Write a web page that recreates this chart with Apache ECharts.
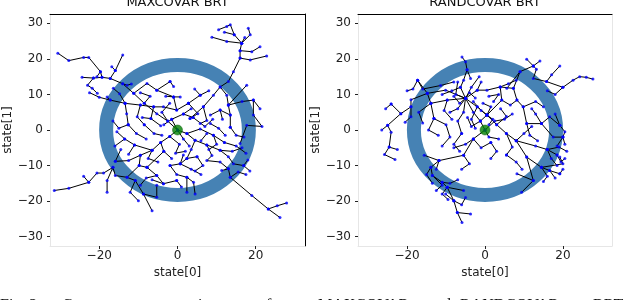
<!DOCTYPE html>
<html><head><meta charset="utf-8">
<script src="https://cdn.jsdelivr.net/npm/echarts@6/dist/echarts.min.js"></script>
<style>html,body{margin:0;padding:0;background:#fff}#c{width:640px;height:300px}</style>
</head><body><div id="c"></div><script>
const panelTitles = ['MAXCOVAR BRT', 'RANDCOVAR BRT'];
const xTicks = [-20, 0, 20];
const yTicks = [-30, -20, -10, 0, 10, 20, 30];
const axisRange = [-32.6, 32.6];
const goalCircle = [0, 0, 18.25];
const startPoint = [0, 0];
const captionWords = ['Fig. 2:', 'Coverage', 'comparison', 'of', 'MAXCOVAR', 'and', 'RANDCOVAR', 'BRT'];

const maxcovarBranches = [
 [[0,0],[-2.5,2.5],[-5.3,4.6],[-8.5,7.5],[-11.2,10.3],[-14,13],[-17.2,14.5],[-19.3,14.8],[-19.7,16.4],[-22.7,20.4],[-24,20.4],[-27.8,19.5],[-30.6,21.6]],
 [[-17.2,14.5],[-15.9,16.7],[-14,21.1]],
 [[-15.9,16.7],[-16.8,17.8]],
 [[-19.3,14.8],[-21.5,14.6],[-24.4,14.8]],
 [[-21.5,14.6],[-23,12.6],[-21.8,11.7],[-20.5,10.3]],
 [[-19.7,16.4],[-20.6,15]],
 [[-14,13],[-12.9,12.6],[-11.8,12.9]],
 [[-11.2,10.3],[-7.8,13.1],[-5.3,11.2],[-1.9,13.6]],
 [[-5.3,11.2],[-1.0,9.3],[0.7,9.3]],
 [[-1.9,13.6],[-1.0,12.2]],
 [[-1.0,9.3],[-0.2,5.6],[2.8,7.5]],
 [[-0.2,5.6],[-3.6,6.5],[-6.1,6.5],[-9.5,7],[-13.4,7.5],[-17.2,8.4],[-18,9.3]],
 [[-17.2,8.4],[-20,9.2],[-22.5,10.5]],
 [[-13.4,7.5],[-14.8,10.2],[-16.4,11.7]],
 [[-13.4,7.5],[-13,4.6],[-12.6,1.5]],
 [[-9.5,7],[-10.3,3.7],[-8.5,1.5]],
 [[-6.1,6.5],[-6.8,3.2],[-4.3,1.2]],
 [[2.8,7.5],[5.8,9.8],[4.4,11.5]],
 [[2.8,7.5],[5.2,4.6],[3.2,3.2]],
 [[3.2,3.2],[6.6,6.5],[9.2,9.8],[10.9,12.1],[13,13.6],[14.3,16.4],[16,20.2],[16,22.3],[16.4,24.4],[12.6,24.9],[8.8,26.1]],
 [[16.4,24.4],[18.6,26.8],[18.1,28.6]],
 [[16.4,24.4],[14.5,26.8],[13.5,29.6],[12.6,29.1],[10.5,28.2]],
 [[14.5,26.8],[12,27.5]],
 [[16,20.2],[18.6,19.7],[22.8,20.8]],
 [[16,22.3],[19,22],[21.1,23.4]],
 [[16.4,24.4],[17.2,26]],
 [[10.9,12.1],[12.6,9.8],[13,7],[13.5,4.2],[13.5,0.8]],
 [[13,7],[17.7,12.6]],
 [[13,7],[16.5,8],[19.4,8.4],[21.1,6]],
 [[19.4,8.4],[19.4,4.2],[21.6,1],[17.7,1.3],[16,-3.8]],
 [[13.5,4.2],[10.9,5.6],[8.4,4.2]],
 [[6.6,6.5],[7.5,2.7],[5.8,1.8]],
 [[8.4,1.8],[10.5,0.5],[12.2,-1.5]],
 [[13.5,0.8],[15,-1.5],[17,-2]],
 [[0,0],[2.4,-1],[4.5,-2.9],[7.5,-4.2],[10.9,-5.7],[13,-7.5],[14.3,-9.5],[16.9,-10],[18,-8.4]],
 [[4.5,-2.9],[3.5,-5.5],[2.4,-8],[0.7,-9.5],[-1.9,-10]],
 [[7.5,-4.2],[8.8,-7.2],[7.5,-8.6],[10.9,-9],[13,-10.9],[11.3,-11.4]],
 [[13,-10.9],[13.5,-13.3],[19,-18.4],[23.2,-22.2],[26.2,-24.6]],
 [[23.2,-22.2],[25.5,-21.3],[27.9,-20.5]],
 [[13.5,-13.3],[15.5,-11.8],[17.5,-12.5]],
 [[0,0],[-2,-1.8],[-4.3,-3.5],[-6.5,-5.7],[-9.5,-7.1],[-12.5,-8.6],[-15.9,-8.8]],
 [[-9.5,-7.1],[-9.8,-10],[-12.9,-13.3],[-15.9,-12.8],[-16.5,-10.5],[-18.9,-12.1],[-20.6,-12.1],[-22.7,-14.7],[-27.8,-16.4],[-31.5,-17]],
 [[-16.5,-10.5],[-18,-14.2],[-18,-17.5]],
 [[-12.9,-13.3],[-10.8,-14.2],[-12.1,-17.5],[-10,-19.9]],
 [[-10.8,-14.2],[-8.7,-18],[-6.5,-22.7]],
 [[-8.7,-18],[-5.3,-18.9],[-5.3,-15.5]],
 [[-7.8,-10.5],[-5.3,-12.8],[-3.6,-15.1],[-0.2,-14.2]],
 [[-1.9,-10],[-0.2,-12.5],[2.4,-13.3],[4.1,-14.7],[4.5,-18]],
 [[2.4,-13.3],[2.4,-17.5]],
 [[-4.3,-3.5],[-3.5,-6],[-7.8,-10.5]],
 [[-2,-1.8],[0.5,-4],[-0.5,-6.5],[2,-6]],
 [[2.4,-1],[5.8,0.3],[9.2,-1.5],[12,-3.5]],
 [[-6.5,-5.7],[-11,-4.2],[-13.5,-2.5],[-16,-4.5]],
 [[-11,-4.2],[-12.5,-6.8]],
 [[0,0],[-1.5,3],[1.5,4.5],[4,3.5]],
 [[-8.5,1.5],[-6,-1],[-4,-1.5]],
 [[5,-7.5],[6.5,-10],[4.5,-11.5]],
 [[-15.9,-8.8],[-14.5,-5.5]],
 [[10.9,-5.7],[14,-6],[16.5,-5]],
 [[-22.7,-14.7],[-24,-13]],
 [[-3.6,-15.1],[-6.5,-14]],
 [[0.7,-9.5],[1.5,-7]],
 [[-2.5,2.5],[-4,5],[-2,7.5]],
 [[1.5,4.5],[3.5,6]],
 [[4,3.5],[7,1],[9,3]],
 [[-8.5,7.5],[-7,9.5],[-9.5,10.5]],
 [[-12.6,1.5],[-10.5,-1],[-8,-2.5]],
 [[-12.6,1.5],[-15,0.5],[-16.5,2.5]],
 [[2.4,-8],[5,-7.5]],
 [[-6.5,-5.7],[-7.5,-8],[-5,-9]],
 [[-9.8,-10],[-7.8,-10.5]],
 [[0.7,-9.5],[3.5,-11],[6,-12.5]],
 [[9.2,-1.5],[10,-4],[8,-5.5]],
 [[12,-3.5],[15,-4.5],[17.5,-6.5]],
 [[16.9,-10],[18.5,-11.5]],
 [[-3.5,-6],[-1.5,-8]],
 [[-5.3,-12.8],[-8,-13.5],[-9.5,-15.5]],
 [[-0.2,-14.2],[1,-16]],
 [[-13.5,-2.5],[-15.5,-0.5]],
 [[5.8,9.8],[8,11]],
 [[-1,9.3],[-3,9.5]],
 [[10.9,5.6],[11.5,3]],
 [[0,0],[1.5,-2.5],[3,-4.5]],
 [[-1.5,3],[-3.5,1.5]],
 [[-6.8,3.2],[-9,3.5]],
 [[6,-3],[7.5,-1]]
];

const randcovarBranches = [
 [[0,0],[-1.2,2.5],[0.5,4.2],[-2,6.5],[-5,8.9],[-6.3,12],[-5.5,14],[-4.6,16.9],[-5,19.2],[-5.9,20.5]],
 [[-4.6,16.9],[-3.7,14.5]],
 [[-5,8.9],[-9.7,8.4],[-13.9,7.5],[-14.8,10.3],[-17.3,14]],
 [[-5,8.9],[-10.1,11.2],[-14.8,10.3]],
 [[-13.9,7.5],[-13.1,3.2]],
 [[-14.8,10.3],[-19,8.5],[-19,6.5],[-21.6,4.6],[-24.1,7.3]],
 [[-19,6.5],[-19,3.7],[-20.5,2.2]],
 [[-21.6,4.6],[-25,1.3],[-24.1,-0.6],[-24.6,-4.8],[-25.8,-6.9],[-23.1,-8.3]],
 [[-5,8.9],[-2,11.2],[0.5,11.2],[3.9,12.1],[7.3,11.7],[9,16.4],[12.4,18],[10.7,19.9]],
 [[12.4,18],[14.1,19.4]],
 [[12.4,18],[13.2,17.1],[12.4,14.5],[15.8,13.6],[20,12],[22.6,14],[24.3,15],[26,14.8],[27.7,14.3]],
 [[15.8,13.6],[17.1,15.5],[19.2,18]],
 [[7.3,11.7],[8.2,8.4],[9.8,6.5],[10.7,1.8],[14.5,1.8],[16.6,3.7],[19.2,1.3]],
 [[14.5,1.8],[17.5,-2],[20,-2],[20.5,-4]],
 [[0.5,4.2],[4.3,8.4],[3.9,12.1]],
 [[-5,8.9],[-3,5],[-1.2,2.5]],
 [[0.5,4.2],[3,1.5],[5.5,-1],[8,-3],[10.7,-7.6],[14.5,-10.5],[16.6,-11.4],[19.2,-12.3]],
 [[14.5,-10.5],[20,-9.5],[19.2,-7.6]],
 [[10.7,-7.6],[12.4,-14.2],[9.4,-17.5]],
 [[12.4,-14.2],[8.2,-12.3]],
 [[8,-3],[13,-4.5],[16,-5.5],[18.5,-7]],
 [[16,-5.5],[19,-4.8],[21,-6]],
 [[0,0],[-3,-2.5],[-5.5,-7.1],[-11.8,-8.6],[-13.9,-10.5],[-13.5,-12.8],[-11,-14.7],[-9.7,-16.1],[-8,-19.9],[-7.1,-23.2],[-5.9,-26]],
 [[-7.1,-23.2],[-3.7,-23.6]],
 [[-9.7,-16.1],[-5.5,-17]],
 [[-10.1,-18],[-8,-19.9]],
 [[-11.8,-8.6],[-15.6,-7.1]],
 [[-13.5,-12.8],[-11,-15.5],[-12.5,-17]],
 [[-17.3,14],[-16,11.5],[-11.4,12.5],[-8,13.5]],
 [[-6.3,12],[-8.5,11],[-11,10]],
 [[-13.1,3.2],[-10,1.5],[-9,-2],[-11,-4.5]],
 [[-5,8.9],[-5.5,5],[-7,2.5],[-6,-1]],
 [[0,0],[2.5,2.5],[5,3],[7,4.5]],
 [[0.5,4.2],[1.5,6.5],[-0.5,7.5]],
 [[-2,6.5],[-3.5,3],[-2.5,0.5]],
 [[3,1.5],[5.5,3.8],[4,6]],
 [[5.5,-1],[7,-4.8],[5.5,-7]],
 [[-3,-2.5],[-1,-5],[1.5,-3.5]],
 [[-5,8.9],[-7,6],[-9,5]],
 [[2.2,8],[3.5,10],[1,9.5]],
 [[9.8,6.5],[13,8],[15,6.5]],
 [[20,12],[18,10],[16,11]],
 [[19.2,1.3],[20.5,-0.5],[20,-2]],
 [[-24.1,7.3],[-25.5,6]],
 [[-25,1.3],[-26.5,0]],
 [[-2,11.2],[-1,13.5]],
 [[3.9,12.1],[6,13],[8,14]],
 [[-1.2,2.5],[-3.5,1],[-4.5,3.5]],
 [[0.5,4.2],[2,3],[1,1.5]],
 [[0.5,4.2],[-1,5.5],[-3,8]],
 [[-5,8.9],[-4,10.5],[-2.5,9]],
 [[-5,8.9],[-6.5,7.5],[-8,9.5]],
 [[-5,8.9],[-3.5,12],[-1.5,15]],
 [[-5,8.9],[-7.5,10],[-7,13.5]],
 [[-9.7,8.4],[-10.5,5.5],[-8.5,3]],
 [[-13.9,7.5],[-17,5],[-16,2]],
 [[-13.1,3.2],[-14.5,0],[-12,-1.5]],
 [[-6,-1],[-8,-4],[-6.5,-6]],
 [[-5.5,-7.1],[-4,-9.5],[-6,-11]],
 [[-3,-2.5],[-5,-4],[-8,-5]],
 [[1.5,-3.5],[3,-6],[1.5,-8]],
 [[5.5,-7],[8,-9],[9.5,-11]],
 [[8,-3],[10,-1],[12,1]],
 [[10.7,1.8],[11.5,-1.5],[13.5,-3]],
 [[16,-5.5],[17,-8],[18.5,-10]],
 [[18.5,-7],[19.5,-9],[20.5,-8]],
 [[14.5,-10.5],[16,-13],[15,-14.5]],
 [[16.6,-11.4],[18,-13.5]],
 [[19.2,-12.3],[20,-11]],
 [[-13.9,-10.5],[-15,-12.5],[-13.5,-15]],
 [[-11,-14.7],[-9,-15],[-7,-14]],
 [[-9.7,-16.1],[-11,-18],[-9.5,-19.5]],
 [[-8,-19.9],[-6,-21],[-5,-19]],
 [[-11.8,-8.6],[-12.5,-11]],
 [[4.3,8.4],[6.5,7],[8.2,8.4]],
 [[5.6,11.7],[9,16.4]],
 [[-17.3,14],[-18.5,11.5],[-20,11]],
 [[-24.6,-4.8],[-22.5,-5.5]],
 [[14.5,1.8],[13,4.5],[12,6]],
 [[19.2,1.3],[18,4.5]],
 [[20,-2],[18.5,-4.5]],
 [[0,0],[1,-2],[3.5,-2.5]]
];

const FONT = 'DejaVu Sans';
const minusFmt = v => (v < 0 ? '\u2212' + (-v) : String(v));
const grids = [
  {left: 50, top: 14, width: 255, height: 232},
  {left: 358, top: 14, width: 254, height: 232}
];
const rightSpineColor = ['#000', '#e6e6e6'];
const xAxes = [], yAxes = [], series = [], titles = [];
panelTitles.forEach((t, i) => {
  const g = grids[i];
  titles.push({text: t, left: g.left + g.width / 2, textAlign: 'center', top: -4, padding: 0,
    textStyle: {fontFamily: FONT, fontSize: 13, fontWeight: 'normal', color: '#111'}});
  xAxes.push({gridIndex: i, type: 'value', min: axisRange[0], max: axisRange[1], position: 'bottom',
    axisLine: {show: true, onZero: false, lineStyle: {color: '#e6e6e6'}},
    axisTick: {show: true, customValues: xTicks, length: 3, lineStyle: {color: '#222'}},
    axisLabel: {customValues: xTicks, formatter: minusFmt, fontFamily: FONT, fontSize: 12, color: '#222', margin: 4},
    splitLine: {show: false},
    name: 'state[0]', nameLocation: 'middle', nameGap: 19,
    nameTextStyle: {fontFamily: FONT, fontSize: 12, color: '#222'}});
  xAxes.push({gridIndex: i, type: 'value', min: axisRange[0], max: axisRange[1], position: 'top',
    axisLine: {show: true, onZero: false, lineStyle: {color: '#000'}},
    axisTick: {show: false}, axisLabel: {show: false}, splitLine: {show: false}});
  yAxes.push({gridIndex: i, type: 'value', min: axisRange[0], max: axisRange[1], position: 'left',
    axisLine: {show: true, onZero: false, lineStyle: {color: '#e6e6e6'}},
    axisTick: {show: true, customValues: yTicks, length: 3, lineStyle: {color: '#222'}},
    axisLabel: {customValues: yTicks, formatter: minusFmt, fontFamily: FONT, fontSize: 12, color: '#222', margin: 7},
    splitLine: {show: false},
    name: 'state[1]', nameLocation: 'middle', nameGap: 36,
    nameTextStyle: {fontFamily: FONT, fontSize: 12, color: '#222'}});
  yAxes.push({gridIndex: i, type: 'value', min: axisRange[0], max: axisRange[1], position: 'right',
    axisLine: {show: true, onZero: false, lineStyle: {color: rightSpineColor[i]}},
    axisTick: {show: false}, axisLabel: {show: false}, splitLine: {show: false}});
});

[maxcovarBranches, randcovarBranches].forEach((branches, i) => {
  const xi = i * 2, yi = i * 2;
  series.push({type: 'custom', xAxisIndex: xi, yAxisIndex: yi, z: 1, silent: true,
    data: [goalCircle],
    renderItem: (params, api) => {
      const c = api.coord([api.value(0), api.value(1)]);
      const s = api.size([api.value(2), api.value(2)]);
      return {type: 'ellipse', shape: {cx: c[0], cy: c[1], rx: s[0], ry: s[1]},
        style: {fill: 'none', stroke: '#4682b4', lineWidth: 14}};
    }});
  series.push({type: 'lines', coordinateSystem: 'cartesian2d', xAxisIndex: xi, yAxisIndex: yi, polyline: true, z: 3,
    silent: true,
    lineStyle: {color: '#000', width: 1, opacity: 1},
    data: branches.map(b => ({coords: b}))});
  const nodes = [];
  branches.forEach(b => b.forEach(p => nodes.push(p)));
  series.push({type: 'scatter', xAxisIndex: xi, yAxisIndex: yi, z: 4, silent: true,
    symbol: 'circle', symbolSize: 3, itemStyle: {color: '#0000ff'}, data: nodes});
  series.push({type: 'scatter', xAxisIndex: xi, yAxisIndex: yi, z: 5, silent: true,
    symbol: 'circle', symbolSize: 10, itemStyle: {color: '#008000', borderColor: '#0a5a0a', borderWidth: 0.6},
    data: [startPoint]});
});

const captionX = [0, 62, 150, 258, 318, 428, 460, 593];
const graphic = captionWords.map((w, k) => ({type: 'text', left: captionX[k], top: 297.5, silent: true,
  style: {text: w, fontFamily: 'Liberation Serif', fontSize: 16, fill: '#111'}}));

const chart = echarts.init(document.getElementById('c'), null, {renderer: 'canvas'});
chart.setOption({animation: false, backgroundColor: '#fff', title: titles, grid: grids,
  xAxis: xAxes, yAxis: yAxes, series, graphic});
</script></body></html>
